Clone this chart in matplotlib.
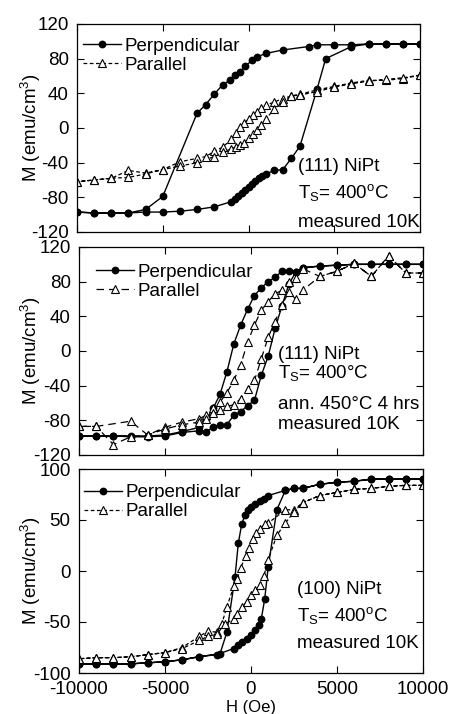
import matplotlib
matplotlib.use('Agg')
import matplotlib.pyplot as plt

plt.rcParams['font.family'] = ['Liberation Sans', 'DejaVu Sans']
plt.rcParams['mathtext.fontset'] = 'custom'
plt.rcParams['mathtext.rm'] = 'Liberation Sans'
plt.rcParams['mathtext.it'] = 'Liberation Sans:italic'
plt.rcParams['mathtext.bf'] = 'Liberation Sans:bold'
plt.rcParams['mathtext.default'] = 'regular'
plt.rcParams['axes.unicode_minus'] = False

# --- (111) NiPt, Ts = 400C ---
top_perp_down_h = [10000, 9000, 8000, 7000, 6000, 5000, 4000, 3500, 2000, 1000, 500, 200,
                   -200, -500, -800, -1100, -1500, -2000, -2500, -3000, -5000, -6000,
                   -7000, -8000, -9000, -10000]
top_perp_down_m = [97, 97, 97, 97, 96, 96, 96, 94, 90, 86, 82, 78,
                   71, 65, 61, 55, 50, 39, 27, 17, -79, -94,
                   -98, -98, -98, -97]
top_perp_up_h = [-10000, -9000, -8000, -7000, -6000, -5000, -4000, -3000, -2000, -1000,
                 -800, -600, -400, -200, 0, 200, 400, 600, 800, 1000, 1500, 2000,
                 2500, 3000, 4000, 4500, 6000, 7000, 8000, 9000, 10000]
top_perp_up_m = [-97, -98, -98, -98, -97, -97, -96, -94, -91, -85,
                 -82, -79, -75, -71, -68, -65, -61, -58, -55, -53, -49, -48,
                 -35, -21, 45, 80, 94, 97, 97, 97, 97]
top_par_down_h = [10000, 9000, 8000, 7000, 6000, 5000, 4000, 3000, 2500, 2000, 1500, 1000,
                  750, 500, 250, 0, -250, -500, -750, -1000, -1500, -2000, -2500, -3000,
                  -4000, -5000, -6000, -7000, -8000, -9000, -10000]
top_par_down_m = [61, 57, 55, 55, 52, 48, 44, 39, 37, 34, 30, 26,
                  23, 19, 15, 10, 6, 1, -6, -13, -22, -27, -33, -35,
                  -39, -48, -52, -49, -58, -60, -62]
top_par_up_h = [-10000, -9000, -8000, -7000, -6000, -5000, -4000, -3000, -2000, -1500,
                -1000, -750, -500, -250, 0, 250, 500, 750, 1000, 1500, 2000, 2500,
                3000, 4000, 5000, 6000, 7000, 8000, 9000, 10000]
top_par_up_m = [-62, -60, -58, -57, -53, -48, -44, -40, -33, -28,
                -24, -22, -20, -17, -12, -7, -2, 3, 10, 22, 30, 37,
                38, 42, 47, 51, 54, 56, 58, 61]

# --- (111) NiPt, annealed 450C 4 hrs ---
mid_perp_down_h = [10000, 9000, 8000, 7000, 6000, 5000, 4000, 3000, 2600, 2200, 1800, 1400,
                   1000, 600, 200, -200, -600, -1000, -1400, -1800, -2200, -2600, -3000,
                   -4000, -5000, -6000, -7000, -8000, -9000, -10000]
mid_perp_down_m = [100, 100, 100, 100, 100, 99, 98, 96, 91, 92, 92, 85,
                   80, 73, 64, 48, 30, 8, -24, -50, -66, -79, -88,
                   -93, -97, -98, -98, -98, -98, -98]
mid_perp_up_h = [-10000, -9000, -8000, -7000, -6000, -5000, -4000, -3000, -2600, -2200,
                 -1800, -1400, -1000, -600, -200, 200, 600, 1000, 1400, 1800, 2200, 2600,
                 3000, 4000, 5000, 6000, 7000, 8000, 9000, 10000]
mid_perp_up_m = [-98, -98, -98, -99, -99, -98, -94, -92, -93, -88,
                 -85, -85, -74, -70, -63, -57, -28, -6, 26, 52, 77, 91,
                 96, 98, 99, 100, 100, 100, 100, 100]
mid_par_down_h = [10000, 9000, 8000, 7000, 6000, 5000, 4000, 3000, 2600, 2200, 1800, 1400,
                  1000, 600, 200, -200, -600, -1000, -1400, -1800, -2200, -2600, -3000,
                  -4000, -5000, -6000, -7000, -9000, -10000]
mid_par_down_m = [90, 90, 110, 86, 101, 92, 86, 95, 84, 80, 70, 66,
                  57, 47, 30, 10, -16, -34, -48, -59, -66, -74, -78,
                  -82, -88, -97, -81, -87, -87]
mid_par_up_h = [-10000, -9000, -8000, -7000, -6000, -5000, -4000, -3000, -2600, -2200,
                -1800, -1400, -1000, -600, -200, 200, 600, 1000, 1400, 1800, 2200, 2600,
                3000, 4000, 5000, 6000, 7000, 8000, 9000, 10000]
mid_par_up_m = [-87, -87, -108, -99, -97, -90, -85, -82, -78, -72,
                -68, -64, -62, -55, -44, -34, -9, 16, 34, 53, 68, 60,
                70, 86, 92, 101, 86, 110, 90, 90]

# --- (100) NiPt, Ts = 400C ---
bot_perp_down_h = [10000, 9000, 8000, 7000, 6000, 5000, 4000, 3000, 2500, 2000, 1000, 750,
                   500, 250, 0, -150, -350, -540, -740, -930, -1400, -1800, -3000, -4000,
                   -5000, -6000, -7000, -8000, -9000, -10000]
bot_perp_down_m = [90, 90, 90, 90, 88, 87, 85, 81, 81, 79, 74, 71,
                   69, 66, 63, 60, 55, 46, 27, -6, -60, -81, -84, -87,
                   -89, -90, -91, -91, -91, -91]
bot_perp_up_h = [-10000, -9000, -8000, -7000, -6000, -5000, -4000, -3000, -2000, -1000,
                 -750, -500, -250, 0, 250, 450, 600, 800, 1000, 1500, 2000, 2500, 3000,
                 4000, 5000, 6000, 7000, 8000, 9000, 10000]
bot_perp_up_m = [-91, -91, -91, -91, -90, -89, -87, -84, -82, -76,
                 -73, -70, -67, -63, -58, -53, -47, -27, 4, 60, 79, 81, 81,
                 85, 87, 88, 90, 90, 90, 90]
bot_par_down_h = [10000, 9000, 8000, 7000, 6000, 5000, 4000, 3000, 2500, 2000, 1000, 800,
                  500, 300, 100, -100, -300, -600, -800, -1000, -1400, -1700, -2000, -2500,
                  -3000, -4000, -5000, -6000, -7000, -8000, -9000, -10000]
bot_par_down_m = [84, 84, 83, 81, 80, 77, 74, 67, 60, 60, 47, 46,
                  41, 37, 31, 23, 15, 3, -8, -15, -35, -52, -60, -59,
                  -64, -75, -80, -82, -84, -85, -85, -86]
bot_par_up_h = [-10000, -9000, -8000, -7000, -6000, -5000, -4000, -3000, -2500, -2000,
                -1500, -1000, -800, -500, -250, 0, 250, 500, 750, 1000, 1500, 2000,
                2500, 3000, 4000, 5000, 6000, 7000, 8000, 9000, 10000]
bot_par_up_m = [-86, -85, -85, -84, -82, -80, -76, -68, -64, -62,
                -52, -47, -42, -35, -30, -24, -19, -14, -5, 11, 35, 47,
                58, 67, 74, 77, 80, 81, 83, 84, 84]

FS = 13.5


def draw_panel(ax, perp, par, dash, yticks, ylim, notes, note_x, legend_xy, ylab_x):
    ph = perp[0] + perp[2]
    pm = perp[1] + perp[3]
    qh = par[0] + par[2]
    qm = par[1] + par[3]
    ax.plot(ph, pm, color='black', lw=1.0, marker='o', ms=4.6, mfc='black',
            mec='black', label='Perpendicular')
    ax.plot(qh, qm, color='black', lw=0.9, dashes=dash, marker='^', ms=5.3,
            mfc='white', mec='black', mew=0.8, label='Parallel')
    ax.set_xlim(-10000, 10000)
    ax.set_ylim(*ylim)
    ax.set_xticks([-10000, -5000, 0, 5000, 10000])
    ax.set_yticks(yticks)
    ax.tick_params(direction='in', top=True, right=True, length=5, width=0.8,
                   labelsize=FS, pad=6)
    ax.tick_params(axis='x', pad=5.5)
    for s in ax.spines.values():
        s.set_linewidth(0.9)
    ax.set_ylabel('M (emu/cm$^3$)', fontsize=FS)
    ax.yaxis.set_label_coords(ylab_x, 0.5)
    ax.legend(loc='upper left', bbox_to_anchor=legend_xy, frameon=False,
              fontsize=FS, handlelength=2.0, handletextpad=0.2, labelspacing=0.1,
              borderpad=0, borderaxespad=0, numpoints=1)
    for txt, y in notes:
        ax.text(note_x, y, txt, transform=ax.transAxes, fontsize=FS, va='center', ha='left')


fig = plt.figure(figsize=(4.5, 7.14), dpi=100)
ax1 = fig.add_axes([77 / 450, 1 - 232 / 714, 343 / 450, 208 / 714])
ax2 = fig.add_axes([79 / 450, 1 - 455 / 714, 344 / 450, 208 / 714])
ax3 = fig.add_axes([79 / 450, 1 - 673 / 714, 344 / 450, 204 / 714])

draw_panel(ax1,
           (top_perp_down_h, top_perp_down_m, top_perp_up_h, top_perp_up_m),
           (top_par_down_h, top_par_down_m, top_par_up_h, top_par_up_m),
           (3, 2), [-120, -80, -40, 0, 40, 80, 120], (-120, 120),
           [('(111) NiPt', 0.317), ('T$_S$= 400$^o$C', 0.19), ('measured 10K', 0.048)],
           0.644, (0.018, 0.935), -0.10)
draw_panel(ax2,
           (mid_perp_down_h, mid_perp_down_m, mid_perp_up_h, mid_perp_up_m),
           (mid_par_down_h, mid_par_down_m, mid_par_up_h, mid_par_up_m),
           (6, 4), [-120, -80, -40, 0, 40, 80, 120], (-120, 120),
           [('(111) NiPt', 0.481), ('T$_S$= 400°C', 0.395), ('ann. 450°C 4 hrs', 0.245),
            ('measured 10K', 0.149)],
           0.578, (0.05, 0.92), -0.106)
draw_panel(ax3,
           (bot_perp_down_h, bot_perp_down_m, bot_perp_up_h, bot_perp_up_m),
           (bot_par_down_h, bot_par_down_m, bot_par_up_h, bot_par_up_m),
           (3, 2), [-100, -50, 0, 50, 100], (-100, 100),
           [('(100) NiPt', 0.407), ('T$_S$= 400$^o$C', 0.28), ('measured 10K', 0.147)],
           0.634, (0.015, 0.925), -0.106)

ax1.tick_params(axis='x', labelbottom=False)
ax2.tick_params(axis='x', labelbottom=False)
ax3.set_xlabel('H (Oe)', fontsize=12)
ax3.xaxis.set_label_coords(0.5, -0.133)

fig.savefig('out.png', dpi=100)
